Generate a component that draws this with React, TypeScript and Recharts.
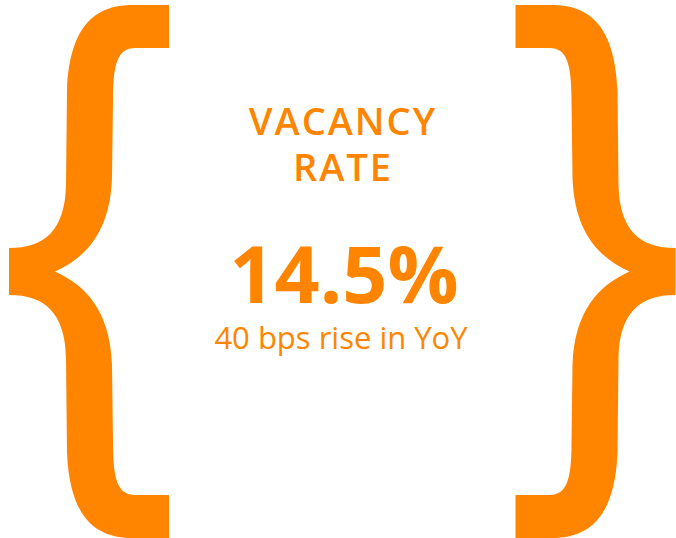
import { ComposedChart, XAxis, YAxis, Customized } from "recharts";

const titleLines = ["VACANCY", "RATE"];
const kpiValue = [14.5];
const changeBps = [40];
const changeLabel = ["bps rise in YoY"];

const ORANGE = "#ff8500";
const W = 676;
const H = 538;

// left curly brace outline, right one is its mirror
const bracePath =
  "M169,5 L133,5 C100,5 70,20 67,90 L66,185 C65,230 45,248 9,248 L9,295 " +
  "C45,295 65,313 66,358 L67,453 C70,523 100,538 133,538 L169,538 L169,495 " +
  "L135,495 C118,495 113,480 113,443 L112,365 C110,310 85,285 55,271.5 " +
  "C85,258 110,233 112,178 L113,100 C113,63 118,48 135,48 L169,48 Z";

const Card = () => {
  const cx = 342;
  return (
    <g>
      <path d={bracePath} fill={ORANGE} />
      <path d={bracePath} fill={ORANGE} transform="translate(684.5,0) scale(-1,1)" />
      <g
        fill={ORANGE}
        textAnchor="middle"
        style={{ fontFamily: "'Open Sans', sans-serif" }}
      >
        {titleLines.map((line, i) => (
          <text
            key={line}
            x={cx + 1}
            y={135 + i * 46}
            fontSize={38}
            fontWeight={600}
            letterSpacing={2}
          >
            {line}
          </text>
        ))}
        <text x={cx + 2} y={303} fontSize={79} fontWeight={700}>
          {kpiValue[0].toFixed(1)}%
        </text>
        <text x={cx - 1} y={349} fontSize={31} fontWeight={400}>
          {`${changeBps[0]} ${changeLabel[0]}`}
        </text>
      </g>
    </g>
  );
};

export default function App() {
  return (
    <div style={{ position: "absolute", left: 0, top: 0, width: W, height: H, background: "#fff" }}>
      <ComposedChart
        width={W}
        height={H}
        data={[{ name: "Vacancy", value: kpiValue[0] }]}
        margin={{ top: 0, right: 0, bottom: 0, left: 0 }}
      >
        <XAxis type="number" dataKey="value" hide domain={[0, W]} />
        <YAxis type="number" hide domain={[0, H]} />
        <Customized component={Card} />
      </ComposedChart>
    </div>
  );
}
